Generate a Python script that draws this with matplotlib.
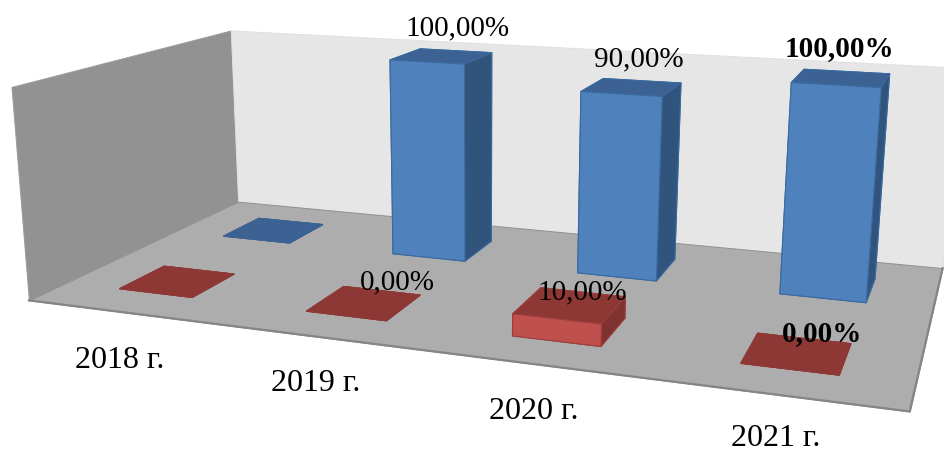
# 3d bar chart, camera is fitted to the frame corners instead of using view_init
import numpy as np
import matplotlib
matplotlib.use('Agg')
import matplotlib.pyplot as plt
from mpl_toolkits.mplot3d.art3d import Poly3DCollection

W, H = 944, 452

# Data
years = ['2018 г.', '2019 г.', '2020 г.', '2021 г.']
blue_vals = [0, 100, 90, 100]
red_vals = [0, 0, 10, 0]
blue_labels = [None, '100,00%', '90,00%', '100,00%']
red_labels = [None, '0,00%', '10,00%', '0,00%']

# Text spots in pixels
year_pos = [(120, 361), (316, 384), (534, 412), (776, 439)]
blue_label_pos = [None, (458, 28), (639, 59), (839, 49)]
red_label_pos = [None, (397, 282), (582, 292), (822, 334)]
bold_years = [3]

# world point -> pixel, for the camera fit (x = category, y = row, z = percent)
cam_world = np.array([
    [0, 0, 0], [4, 0, 0], [4, 2, 0], [0, 2, 0], [0, 2, 100], [0, 0, 100],
    [1.7, 1.3, 0], [1.7, 1.3, 100], [1.7, 1.7, 100], [1.3, 1.3, 100], [1.3, 1.3, 0],
    [3.3, 1.3, 0], [3.7, 1.3, 0], [3.3, 1.3, 100], [3.7, 1.3, 100], [3.7, 1.7, 100], [3.3, 1.7, 100],
], dtype=float)
cam_px = np.array([
    [29, 301], [910, 413], [943, 268], [238, 203], [230.5, 32], [11.5, 87.5],
    [465.7, 262], [464, 65], [492.7, 53], [390, 60.7], [392.7, 255],
    [779, 295], [866, 304], [791, 84], [881, 89], [890, 75], [804, 70],
], dtype=float)


def fit_camera(world, pts):
    rows = []
    for (x, y, z), (u, v) in zip(world, pts):
        rows.append([x, y, z, 1, 0, 0, 0, 0, -u*x, -u*y, -u*z, -u])
        rows.append([0, 0, 0, 0, x, y, z, 1, -v*x, -v*y, -v*z, -v])
    P = np.linalg.svd(np.array(rows))[2][-1].reshape(3, 4)
    return P / (P[2] @ np.array([2, 1, 50, 1]))


fig = plt.figure(figsize=(W/100, H/100), dpi=100)
ax = fig.add_axes([0, 0, 1, 1], projection='3d', computed_zorder=False)
ax.set_axis_off()


def get_proj():
    # pixels to the 2d coords of the axes, then the fit gives the matrix
    pts = np.column_stack([cam_px[:, 0], H - cam_px[:, 1]])
    P = fit_camera(cam_world, ax.transData.inverted().transform(pts))
    return np.vstack([P[0], P[1], [0, 0, 0, -1], P[2]])


ax.get_proj = get_proj

# Walls and floor
zmax = 100
left_wall = [(0, 0, 0), (0, 2, 0), (0, 2, zmax), (0, 0, zmax)]
back_wall = [(0, 2, 0), (4, 2, 0), (4, 2, zmax), (0, 2, zmax)]
floor = [(0, 0, 0), (4, 0, 0), (4, 2, 0), (0, 2, 0)]
for verts, col, edge, z in [(left_wall, '#929292', '#9c9c9c', 1), (back_wall, '#e6e6e6', '#e0e0e0', 1),
                            (floor, '#adadad', '#909090', 2)]:
    poly = Poly3DCollection([verts], facecolors=col, edgecolors=edge, linewidths=0.7, zorder=z)
    poly.set_clip_on(False)
    ax.add_collection3d(poly)
front_edge, = ax.plot([0, 4, 4], [0, 0, 2], [0, 0, 0], color='#858585', lw=1.6, zorder=2.5)
front_edge.set_clip_on(False)

# Bars, faces go bottom, top, front, back, left, right
blue_faces = ['#3a6090', '#3b6292', '#4f81bd', '#4f81bd', '#4f81bd', '#31547c']
red_faces = ['#8e3836', '#8e3836', '#c0504d', '#c0504d', '#c0504d', '#7f3230']
bar_w = 0.4
for row, vals, faces, edge in [(1, blue_vals, blue_faces, '#3a6a9f'), (0, red_vals, red_faces, '#9c3f3c')]:
    for i, v in enumerate(vals):
        if v == 0:
            edge_col = faces[1]
        else:
            edge_col = edge
        b = ax.bar3d(i + 0.3, row + 0.3, 0, bar_w, bar_w, v, color=faces, shade=False,
                     edgecolor=edge_col, linewidth=0.8, zorder=3 + (1 - row))
        b.set_clip_on(False)

font = 'Liberation Serif'


def put_text(pos, s, bold=False, fs=21):
    fig.text(pos[0]/W, 1 - pos[1]/H, s, ha='center', va='center', family=font, fontsize=fs,
             fontweight='bold' if bold else 'normal', color='black')


for i, y in enumerate(years):
    put_text(year_pos[i], y, fs=23)
for i in range(len(years)):
    if blue_labels[i]:
        put_text(blue_label_pos[i], blue_labels[i], i in bold_years)
    if red_labels[i]:
        put_text(red_label_pos[i], red_labels[i], i in bold_years)

fig.savefig('out.png', dpi=100)
